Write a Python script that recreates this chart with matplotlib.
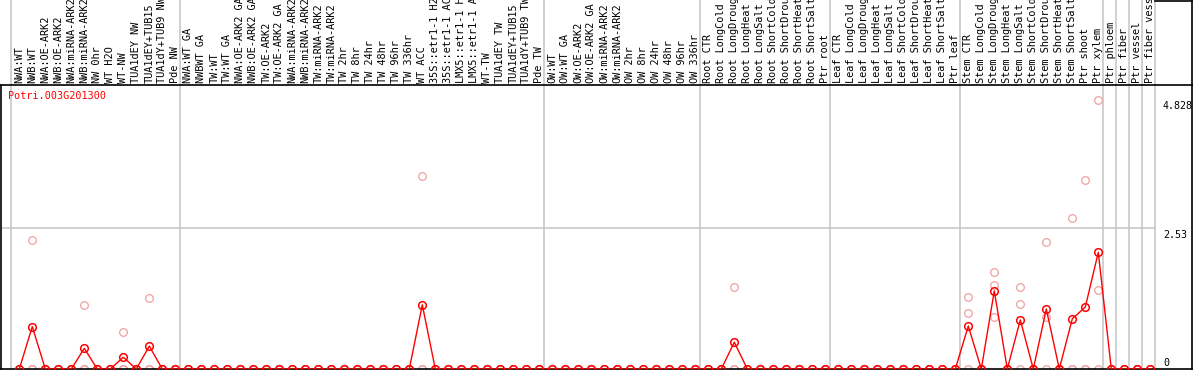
import matplotlib
matplotlib.use("Agg")
import matplotlib.pyplot as plt
from matplotlib.lines import Line2D
import matplotlib.transforms as mtransforms

W, H, DPI = 1194, 370, 100

gene = "Potri.003G201300"

samples = [
    # group 1
    "NWA:WT", "NWB:WT", "NWA:OE-ARK2", "NWB:OE-ARK2", "NWA:miRNA-ARK2",
    "NWB:miRNA-ARK2", "NW 0hr", "WT H2O", "WT-NW", "TUA1dEY NW",
    "TUA1dEY+TUB15", "TUA1dY+TUB9 NW", "Pde NW",
    # group 2
    "NWA:WT GA", "NWBWT GA", "TW:WT", "TW:WT GA", "NWA:OE-ARK2 GA",
    "NWB:OE-ARK2 GA", "TW:OE-ARK2", "TW:OE-ARK2 GA", "NWA:miRNA-ARK2",
    "NWB:miRNA-ARK2", "TW:miRNA-ARK2", "TW:miRNA-ARK2", "TW 2hr", "TW 8hr",
    "TW 24hr", "TW 48hr", "TW 96hr", "TW 336hr", "WT ACC",
    "35S::etr1-1 H2O", "35S::etr1-1 ACC", "LMX5::etr1-1 H2O",
    "LMX5::etr1-1 ACC", "WT-TW", "TUA1dEY TW", "TUA1dEY+TUB15",
    "TUA1dY+TUB9 TW", "Pde TW",
    # group 3
    "OW:WT", "OW:WT GA", "OW:OE-ARK2", "OW:OE-ARK2 GA", "OW:miRNA-ARK2",
    "OW:miRNA-ARK2", "OW 2hr", "OW 8hr", "OW 24hr", "OW 48hr", "OW 96hr",
    "OW 336hr",
    # root
    "Root CTR", "Root LongCold", "Root LongDrought", "Root LongHeat",
    "Root LongSalt", "Root ShortCold", "Root ShortDrought", "Root ShortHeat",
    "Root ShortSalt", "Ptr root",
    # leaf
    "Leaf CTR", "Leaf LongCold", "Leaf LongDrought", "Leaf LongHeat",
    "Leaf LongSalt", "Leaf ShortCold", "Leaf ShortDrought", "Leaf ShortHeat",
    "Leaf ShortSalt", "Ptr leaf",
    # stem
    "Stem CTR", "Stem LongCold", "Stem LongDrought", "Stem LongHeat",
    "Stem LongSalt", "Stem ShortCold", "Stem ShortDrought", "Stem ShortHeat",
    "Stem ShortSalt", "Ptr shoot", "Ptr xylem",
    "Ptr phloem", "Ptr fiber", "Ptr vessel", "Ptr fiber vessel",
]

# first index of each block (vertical separators)
group_starts = [0, 13, 41, 53, 63, 73, 84, 85, 86, 87, 88]

# mean expression (red line)
mean_vals = [
    0, 0.76, 0, 0, 0, 0.37, 0, 0, 0.21, 0, 0.41, 0, 0,
    0, 0, 0, 0, 0, 0, 0, 0, 0, 0, 0, 0, 0, 0, 0, 0, 0, 0, 1.15,
    0, 0, 0, 0, 0, 0, 0, 0, 0,
    0, 0, 0, 0, 0, 0, 0, 0, 0, 0, 0, 0,
    0, 0, 0.48, 0, 0, 0, 0, 0, 0, 0,
    0, 0, 0, 0, 0, 0, 0, 0, 0, 0,
    0.77, 0, 1.40, 0, 0.88, 0, 1.075, 0, 0.90, 1.11, 2.09,
    0, 0, 0, 0,
]

# replicates (pale circles)
rep1 = [
    0, 2.32, 0, 0, 0, 1.15, 0, 0, 0.66, 0, 1.27, 0, 0,
    0, 0, 0, 0, 0, 0, 0, 0, 0, 0, 0, 0, 0, 0, 0, 0, 0, 0, 3.45,
    0, 0, 0, 0, 0, 0, 0, 0, 0,
    0, 0, 0, 0, 0, 0, 0, 0, 0, 0, 0, 0,
    0, 0, 1.47, 0, 0, 0, 0, 0, 0, 0,
    0, 0, 0, 0, 0, 0, 0, 0, 0, 0,
    1.29, 0, 1.74, 0, 1.47, 0, 2.28, 0, 2.715, 3.38, 4.828,
    0, 0, 0, 0,
]
rep2 = [
    0, 0, 0, 0, 0, 0, 0, 0, 0, 0, 0, 0, 0,
    0, 0, 0, 0, 0, 0, 0, 0, 0, 0, 0, 0, 0, 0, 0, 0, 0, 0, 0,
    0, 0, 0, 0, 0, 0, 0, 0, 0,
    0, 0, 0, 0, 0, 0, 0, 0, 0, 0, 0, 0,
    0, 0, 0, 0, 0, 0, 0, 0, 0, 0,
    0, 0, 0, 0, 0, 0, 0, 0, 0, 0,
    1.00, 0, 1.51, 0, 1.17, 0, 0.94, 0, 0, 0, 1.42,
    0, 0, 0, 0,
]
rep3 = [
    0, 0, 0, 0, 0, 0, 0, 0, 0, 0, 0, 0, 0,
    0, 0, 0, 0, 0, 0, 0, 0, 0, 0, 0, 0, 0, 0, 0, 0, 0, 0, 0,
    0, 0, 0, 0, 0, 0, 0, 0, 0,
    0, 0, 0, 0, 0, 0, 0, 0, 0, 0, 0, 0,
    0, 0, 0, 0, 0, 0, 0, 0, 0, 0,
    0, 0, 0, 0, 0, 0, 0, 0, 0, 0,
    0, 0, 0.93, 0, 0, 0, 0, 0, 0, 0, 0,
    0, 0, 0, 0,
]

y_ticks = [0, 2.53, 4.828]
y_tick_labels = ["0", "2.53", "4.828"]

RED = "#ff0000"
PALE = "#f0a0a0"
GRID = "#c8c8c8"
MONO = "DejaVu Sans Mono"

fig = plt.figure(figsize=(W / DPI, H / DPI), dpi=DPI)

# plot box in pixels: x 1..1192, y 85..369 (from top)
px_l, px_r, px_t, px_b = 1, 1192, 85, 369
ax = fig.add_axes([px_l / W, (H - px_b) / H, (px_r - px_l) / W, (px_b - px_t) / H])

x0_px, step_px = 19.3, 13.0
ax.set_xlim((px_l - x0_px) / step_px, (px_r - x0_px) / step_px)
ax.set_ylim(0, (px_b - px_t) / 55.8)
ax.set_xticks([])
ax.set_yticks([])
for s in ax.spines.values():
    s.set_color("black")
    s.set_linewidth(1.2)

x = list(range(len(samples)))

# vertical separators reaching up through the label area
top_frac = px_b / (px_b - px_t)
for g in group_starts:
    ax.axvline(g - 0.65, ymin=0, ymax=top_frac, color=GRID, lw=1.2,
               clip_on=False, zorder=1)

# horizontal guide
sep_frac = (1155 - px_l) / (px_r - px_l)
ax.axhline(y_ticks[1], xmin=0, xmax=sep_frac, color=GRID, lw=1.2, zorder=1)

# replicates
for rep in (rep1, rep2, rep3):
    ax.plot(x, rep, linestyle="none", marker="o", markersize=5.5,
            markerfacecolor="none", markeredgecolor=PALE, markeredgewidth=0.9,
            zorder=2)

# mean line
ax.plot(x, mean_vals, color=RED, lw=1.0, marker="o", markersize=5.5,
        markerfacecolor="none", markeredgecolor=RED, markeredgewidth=1.1,
        zorder=3)

# sample labels (vertical, above the box)
trans = mtransforms.blended_transform_factory(ax.transData, ax.transAxes)
for i, lab in enumerate(samples):
    ax.text(i, 1 + 2 / (px_b - px_t), lab, transform=trans, rotation=90,
            ha="center", va="bottom", fontsize=7.4, family=MONO,
            color="black", clip_on=False)

# gene name
ax.text((8 - px_l) / (px_r - px_l), (px_b - 91) / (px_b - px_t), gene,
        transform=ax.transAxes, ha="left", va="top", fontsize=7.3,
        family=MONO, color=RED)

# y value labels on the right
ytrans = mtransforms.blended_transform_factory(ax.transAxes, ax.transData)
lab_x = (1163 - px_l) / (px_r - px_l)
ax.text(lab_x, 0.012, y_tick_labels[0], transform=ytrans,
        ha="left", va="bottom", fontsize=7.2, family=MONO)
for v, lab in zip(y_ticks[1:], y_tick_labels[1:]):
    ax.text(lab_x, v - 0.03, lab, transform=ytrans,
            ha="left", va="top", fontsize=7.2, family=MONO)

# right box around the label corner
fig.add_artist(Line2D([1155 / W, px_r / W], [1 - 0.5 / H, 1 - 0.5 / H],
                      color="black", lw=1.2))
fig.add_artist(Line2D([px_r / W, px_r / W], [1, (H - px_t) / H],
                      color="black", lw=1.2))

fig.savefig("out.png", dpi=DPI)
